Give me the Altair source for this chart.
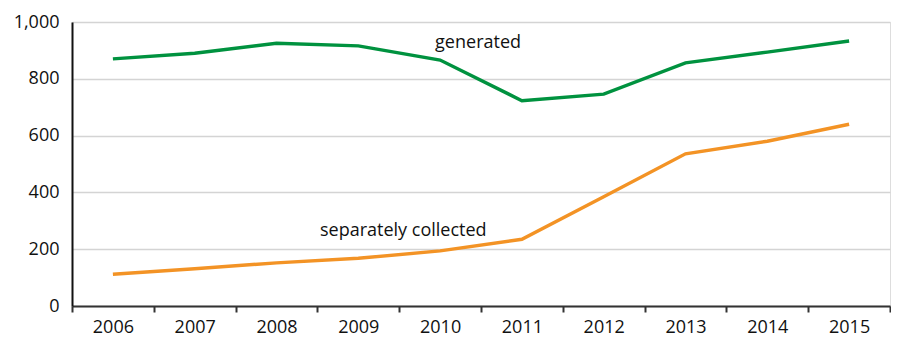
import altair as alt
import pandas as pd

years = ["2006", "2007", "2008", "2009", "2010", "2011", "2012", "2013", "2014", "2015"]
generated = [870, 890, 925, 916, 866, 723, 746, 856, 894, 933]
separately = [112, 131, 152, 168, 194, 235, 385, 536, 580, 640]

rows = []
for y, g, s in zip(years, generated, separately):
    rows.append({"year": y, "value": g, "series": "generated"})
    rows.append({"year": y, "value": s, "series": "separately collected"})
df = pd.DataFrame(rows)

labels = pd.DataFrame([
    {"year": "2010", "value": 926, "text": "generated", "align": "left", "dx": -5},
    {"year": "2009", "value": 263, "text": "separately collected", "align": "center", "dx": 45},
])

FONT = "Open Sans"
FS = 18
xscale = alt.Scale(type="band", domain=years, paddingInner=0, paddingOuter=0)
yscale = alt.Scale(domain=[0, 1000])

lines = alt.Chart(df).mark_line(strokeWidth=3.4).encode(
    x=alt.X("year:O", scale=xscale, bandPosition=0.5,
            axis=alt.Axis(title=None, tickBand="extent", grid=False, labelAngle=0,
                          domainColor="#333333", domainWidth=2, tickColor="#333333",
                          tickWidth=2, tickSize=6, labelFontSize=FS, labelPadding=6,
                          labelColor="#111111", labelFont=FONT)),
    y=alt.Y("value:Q", scale=yscale,
            axis=alt.Axis(title=None, values=[0, 200, 400, 600, 800, 1000], format=",.0f",
                          grid=True, gridColor="#d4d4d4", gridWidth=1.5, ticks=False,
                          domainColor="#111111", domainWidth=2, labelFontSize=FS,
                          labelPadding=13, labelColor="#111111", labelFont=FONT)),
    color=alt.Color("series:N", legend=None,
                    scale=alt.Scale(domain=["generated", "separately collected"],
                                    range=["#00923f", "#f39325"])),
)

def label(row):
    return alt.Chart(pd.DataFrame([row])).mark_text(
        align=row["align"], baseline="middle", dx=row["dx"], fontSize=FS,
        font=FONT, color="#111111"
    ).encode(
        x=alt.X("year:O", scale=xscale, bandPosition=0.5),
        y=alt.Y("value:Q", scale=yscale),
        text="text:N",
    )

chart = alt.layer(lines, label(labels.iloc[0].to_dict()), label(labels.iloc[1].to_dict())).properties(
    width=818, height=284,
    padding={"left": 5, "top": 5, "right": 0, "bottom": 0},
).configure_view(stroke=None).configure(background="white")

chart.save("out.html", embed_options={"renderer": "svg", "actions": False})
